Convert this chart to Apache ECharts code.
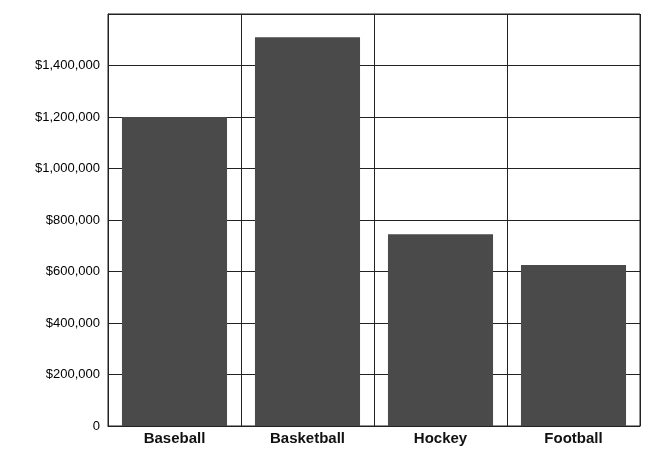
<!DOCTYPE html>
<html><head><meta charset="utf-8">
<script src="https://cdn.jsdelivr.net/npm/echarts@6/dist/echarts.min.js"></script>
<style>html,body{margin:0;padding:0;background:#fff}#c{width:649px;height:450px}</style>
</head><body><div id="c"></div>
<script>
const categories = ["Baseball", "Basketball", "Hockey", "Football"];
const values = [1200000, 1510000, 745000, 625000];
const yTicks = [0, 200000, 400000, 600000, 800000, 1000000, 1200000, 1400000];

const chart = echarts.init(document.getElementById('c'));
chart.setOption({
  animation: false,
  backgroundColor: '#fff',
  grid: { left: 108, right: 9, top: 14, bottom: 24, show: true, borderColor: '#222', borderWidth: 1 },
  xAxis: {
    type: 'category', data: categories,
    axisLine: { lineStyle: { color: '#222' } },
    axisTick: { show: false },
    splitLine: { show: true, lineStyle: { color: '#222', width: 1 } },
    axisLabel: { color: '#111', fontFamily: 'Liberation Sans, Arial', fontWeight: 'bold', fontSize: 15, margin: 5 }
  },
  yAxis: {
    type: 'value', min: 0, max: 1600000, interval: 200000,
    axisLine: { show: true, lineStyle: { color: '#222' } },
    axisTick: { show: false },
    splitLine: { lineStyle: { color: '#222', width: 1 } },
    axisLabel: {
      color: '#000', fontFamily: 'Liberation Sans, Arial', fontSize: 13, margin: 8,
      formatter: v => {
        if (!yTicks.includes(v)) return '';
        if (v === 0) return '0';
        return '$' + v.toLocaleString('en-US');
      }
    }
  },
  series: [{
    type: 'bar', data: values, barWidth: '79%',
    itemStyle: { color: '#4a4a4a' }
  }]
});
</script></body></html>
